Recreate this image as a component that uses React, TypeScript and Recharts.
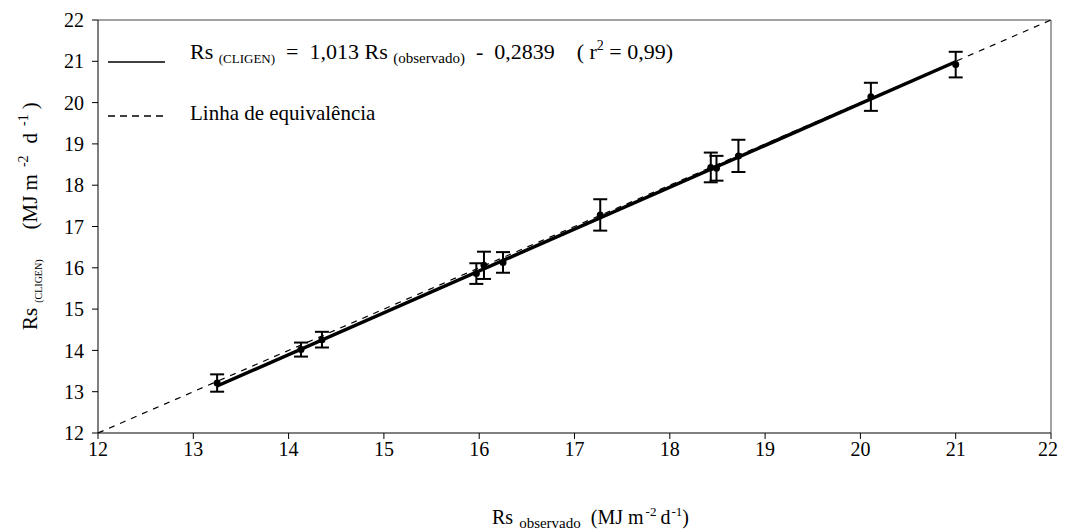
import {
  ComposedChart,
  Line,
  Scatter,
  ErrorBar,
  XAxis,
  YAxis,
  ReferenceLine,
  Legend,
} from 'recharts'

const FONT = '"Liberation Serif", "Times New Roman", serif'

// Rs observado (x) vs Rs CLIGEN (y), MJ m-2 d-1, with standard error
const observado = [13.25, 14.13, 14.35, 15.97, 16.05, 16.25, 17.27, 18.43, 18.49, 18.72, 20.11, 21.0]
const cligen = [13.21, 14.02, 14.26, 15.86, 16.06, 16.13, 17.28, 18.43, 18.41, 18.71, 20.14, 20.92]
const erro = [0.21, 0.17, 0.19, 0.25, 0.33, 0.25, 0.38, 0.36, 0.3, 0.39, 0.34, 0.31]

const axisTicks = [12, 13, 14, 15, 16, 17, 18, 19, 20, 21, 22]
const slope = 1.013
const intercept = -0.2839
const equivalencia = [12, 22]

const points = observado.map((x, i) => ({ x, y: cligen[i], err: erro[i] }))
const xMin = Math.min(...observado)
const xMax = Math.max(...observado)
const regression = [xMin, xMax].map((x) => ({ x, y: slope * x + intercept }))
const oneToOne = equivalencia.map((v) => ({ x: v, y: v }))

function XLabel() {
  return (
    <text x={484} y={516} textAnchor="start" fontFamily={FONT} fontSize={20} fill="#000">
      Rs
      <tspan fontSize={15} dx={6} dy={4}>observado</tspan>
      <tspan dx={10} dy={-4}>(MJ m</tspan>
      <tspan fontSize={13} dx={2} dy={-8}>-2</tspan>
      <tspan dx={4} dy={8}>d</tspan>
      <tspan fontSize={13} dx={1} dy={-8}>-1</tspan>
      <tspan dy={8}>)</tspan>
    </text>
  )
}

function YLabel() {
  return (
    <text
      x={29}
      y={322}
      transform="rotate(-90, 29, 322)"
      textAnchor="start"
      fontFamily={FONT}
      fontSize={21}
      fill="#000"
    >
      Rs
      <tspan fontSize={10} dx={5} dy={5}>(CLIGEN)</tspan>
      <tspan dx={30} dy={-5}>(MJ m</tspan>
      <tspan fontSize={14} dx={7} dy={-9}>-2</tspan>
      <tspan dx={12} dy={9}>d</tspan>
      <tspan fontSize={14} dx={7} dy={-9}>-1</tspan>
      <tspan dx={5} dy={9}>)</tspan>
    </text>
  )
}

function LegendBox() {
  return (
    <svg width={720} height={130} style={{ fontFamily: FONT }}>
      <line x1={100} x2={157} y1={54} y2={54} stroke="#000" strokeWidth={1.5} />
      <text x={182} y={51} fontSize={22} fill="#000" style={{ whiteSpace: 'pre' }}>
        Rs{' '}
        <tspan fontSize={13} dy={4}>(CLIGEN)</tspan>
        <tspan dy={-4}>{'  =  1,013 Rs '}</tspan>
        <tspan fontSize={15} dy={4}>(observado)</tspan>
        <tspan dy={-4}>{'  -  0,2839    ( r'}</tspan>
        <tspan fontSize={14} dy={-9}>2</tspan>
        <tspan dy={9}>{' = 0,99)'}</tspan>
      </text>
      <line x1={100} x2={157} y1={108} y2={108} stroke="#000" strokeWidth={1.5} strokeDasharray="7 5" />
      <text x={182} y={112} fontSize={21} fill="#000">
        Linha de equivalência
      </text>
    </svg>
  )
}

export default function App() {
  return (
    <ComposedChart
      width={1050}
      height={523}
      margin={{ top: 12, right: 7, left: 0, bottom: 0 }}
      style={{ fontFamily: FONT }}
    >
      <XAxis
        type="number"
        dataKey="x"
        domain={[12, 22]}
        ticks={axisTicks}
        allowDataOverflow
        height={98}
        stroke="#000"
        tickSize={6}
        tickMargin={3}
        tick={{ fill: '#000', fontSize: 20, fontFamily: FONT }}
        label={<XLabel />}
      />
      <YAxis
        type="number"
        dataKey="y"
        domain={[12, 22]}
        ticks={axisTicks}
        allowDataOverflow
        width={90}
        stroke="#000"
        tickSize={6}
        tickMargin={8}
        tick={{ fill: '#000', fontSize: 20, fontFamily: FONT }}
        label={<YLabel />}
      />
      <ReferenceLine y={22} stroke="#444" strokeWidth={1} />
      <ReferenceLine x={22} stroke="#444" strokeWidth={1} />
      <Legend
        layout="horizontal"
        verticalAlign="middle"
        align="center"
        wrapperStyle={{ top: 0, left: 0, width: 720, height: 130 }}
        content={() => <LegendBox />}
      />
      <Line
        data={oneToOne}
        dataKey="y"
        stroke="#000"
        strokeWidth={1.2}
        strokeDasharray="6 6"
        dot={false}
        isAnimationActive={false}
        legendType="none"
      />
      <Line
        data={regression}
        dataKey="y"
        stroke="#000"
        strokeWidth={3.5}
        dot={false}
        isAnimationActive={false}
        legendType="none"
      />
      <Scatter
        data={points}
        fill="#000"
        isAnimationActive={false}
        shape={(p: any) => <circle cx={p.cx} cy={p.cy} r={3.5} fill="#000" />}
      >
        <ErrorBar dataKey="err" direction="y" width={7} stroke="#000" strokeWidth={2} isAnimationActive={false} />
      </Scatter>
    </ComposedChart>
  )
}
